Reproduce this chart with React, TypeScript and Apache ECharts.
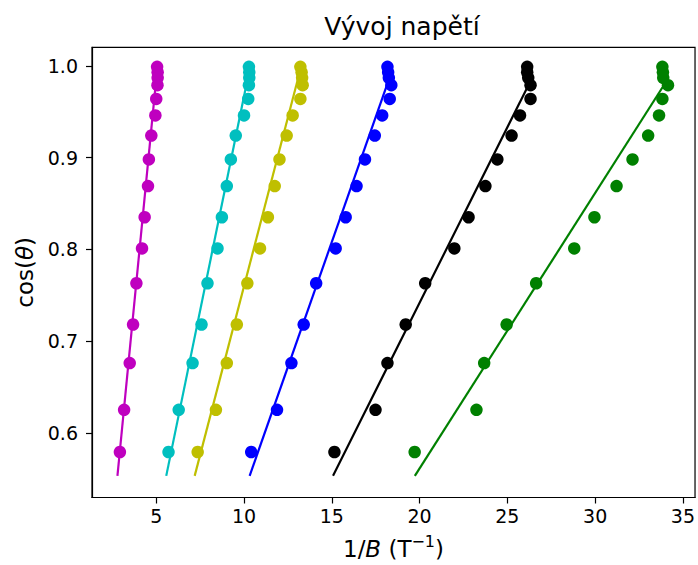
import React, { useEffect, useRef } from "react";
import * as echarts from "echarts";

// cos(theta) values shared by all series
const cosTheta = [0.999, 0.993, 0.987, 0.979, 0.964, 0.946, 0.924, 0.898, 0.869, 0.835, 0.801, 0.763, 0.718, 0.676, 0.625, 0.579];

// 1/B values (T^-1) per series
const invB_m = [5.05, 5.08, 5.08, 5.07, 5.0, 4.95, 4.72, 4.58, 4.53, 4.34, 4.19, 3.87, 3.68, 3.49, 3.17, 2.93];
const invB_c = [10.28, 10.3, 10.3, 10.28, 10.24, 10.0, 9.53, 9.25, 9.02, 8.74, 8.49, 7.92, 7.58, 7.07, 6.28, 5.7];
const invB_y = [13.21, 13.28, 13.31, 13.34, 13.21, 12.77, 12.43, 12.02, 11.75, 11.36, 10.91, 10.19, 9.59, 9.02, 8.4, 7.36];
const invB_b = [18.17, 18.21, 18.25, 18.39, 18.3, 17.87, 17.45, 16.89, 16.41, 15.79, 15.22, 14.11, 13.4, 12.7, 11.88, 10.41];
const invB_k = [26.13, 26.13, 26.19, 26.32, 26.32, 25.72, 25.24, 24.43, 23.75, 22.79, 21.98, 20.32, 19.21, 18.17, 17.49, 15.15];
const invB_g = [33.83, 33.86, 33.88, 34.15, 33.83, 33.64, 33.02, 32.13, 31.22, 29.96, 28.81, 26.64, 24.96, 23.68, 23.24, 19.72];

// fitted lines: [start, end] in 1/B and cos(theta)
const fitX_m = [2.79, 5.05];
const fitY_m = [0.553, 0.996];
const fitX_c = [5.57, 10.28];
const fitY_c = [0.553, 0.993];
const fitX_y = [7.19, 13.17];
const fitY_y = [0.553, 0.993];
const fitX_b = [10.32, 18.25];
const fitY_b = [0.553, 0.985];
const fitX_k = [15.07, 26.2];
const fitY_k = [0.553, 0.979];
const fitX_g = [19.73, 33.85];
const fitY_g = [0.553, 0.977];

const xTicks = [5, 10, 15, 20, 25, 30, 35];
const yTicks = [0.6, 0.7, 0.8, 0.9, 1.0];

const groups = [
  { color: "#bf00bf", x: invB_m, fx: fitX_m, fy: fitY_m },
  { color: "#00bfbf", x: invB_c, fx: fitX_c, fy: fitY_c },
  { color: "#bfbf00", x: invB_y, fx: fitX_y, fy: fitY_y },
  { color: "#0000ff", x: invB_b, fx: fitX_b, fy: fitY_b },
  { color: "#000000", x: invB_k, fx: fitX_k, fy: fitY_k },
  { color: "#008000", x: invB_g, fx: fitX_g, fy: fitY_g },
];

const FONT = "DejaVu Sans";

export default function App() {
  const ref = useRef<HTMLDivElement>(null);
  useEffect(() => {
    if (!ref.current) return;
    const chart = echarts.init(ref.current, null, { renderer: "svg" });
    const series: any[] = [];
    groups.forEach((g) => {
      series.push({
        type: "line",
        data: g.fx.map((v, i) => [v, g.fy[i]]),
        showSymbol: false,
        symbol: "none",
        lineStyle: { color: g.color, width: 2.2 },
        z: 2,
      });
    });
    groups.forEach((g) => {
      series.push({
        type: "scatter",
        data: g.x.map((v, i) => [v, cosTheta[i]]),
        symbol: "circle",
        symbolSize: 12.5,
        itemStyle: { color: g.color, opacity: 1 },
        z: 3,
      });
    });
    chart.setOption({
      animation: false,
      backgroundColor: "#ffffff",
      textStyle: { fontFamily: FONT },
      title: {
        text: "Vývoj napětí",
        left: 397,
        textAlign: "center",
        top: 9,
        textStyle: { fontFamily: FONT, fontSize: 25, fontWeight: "normal", color: "#000" },
      },
      grid: {
        left: 92,
        right: -1,
        top: 47.3,
        bottom: 65.7,
        show: true,
        borderColor: "#000",
        borderWidth: 1.2,
        containLabel: false,
      },
      xAxis: {
        type: "value",
        min: 1.341,
        max: 35.69,
        name: "{n|1/}{i|B}{n| (T}{s|−1}{n|)}",
        nameLocation: "middle",
        nameGap: 36,
        nameTextStyle: {
          rich: {
            n: { fontFamily: FONT, fontSize: 23, lineHeight: 30, color: "#000" },
            i: { fontFamily: FONT, fontSize: 23, lineHeight: 30, fontStyle: "italic", color: "#000" },
            s: { fontFamily: FONT, fontSize: 16, lineHeight: 16, verticalAlign: "top", color: "#000" },
          },
        },
        axisLine: { show: true, onZero: false, lineStyle: { color: "#000", width: 1.2 } },
        axisTick: { show: true, length: 6, customValues: xTicks, lineStyle: { color: "#000", width: 1.2 } },
        axisLabel: {
          customValues: xTicks,
          margin: 9,
          fontFamily: FONT,
          fontSize: 19,
          color: "#000",
          formatter: (v: number) => String(v),
        },
        splitLine: { show: false },
      },
      yAxis: {
        type: "value",
        min: 0.5294,
        max: 1.0203,
        name: "{n|cos(}{i|θ}{n|)}",
        nameLocation: "middle",
        nameRotate: 90,
        nameGap: 54,
        nameTextStyle: {
          rich: {
            n: { fontFamily: FONT, fontSize: 23, color: "#000" },
            i: { fontFamily: FONT, fontSize: 23, fontStyle: "italic", color: "#000" },
          },
        },
        axisLine: { show: true, onZero: false, lineStyle: { color: "#000", width: 1.2 } },
        axisTick: { show: true, length: 6, customValues: yTicks, lineStyle: { color: "#000", width: 1.2 } },
        axisLabel: {
          customValues: yTicks,
          margin: 14,
          fontFamily: FONT,
          fontSize: 19,
          color: "#000",
          formatter: (v: number) => v.toFixed(1),
        },
        splitLine: { show: false },
      },
      series,
    });
    return () => chart.dispose();
  }, []);
  return <div ref={ref} style={{ width: 698, height: 565, position: "absolute", left: 0, top: 0 }} />;
}
